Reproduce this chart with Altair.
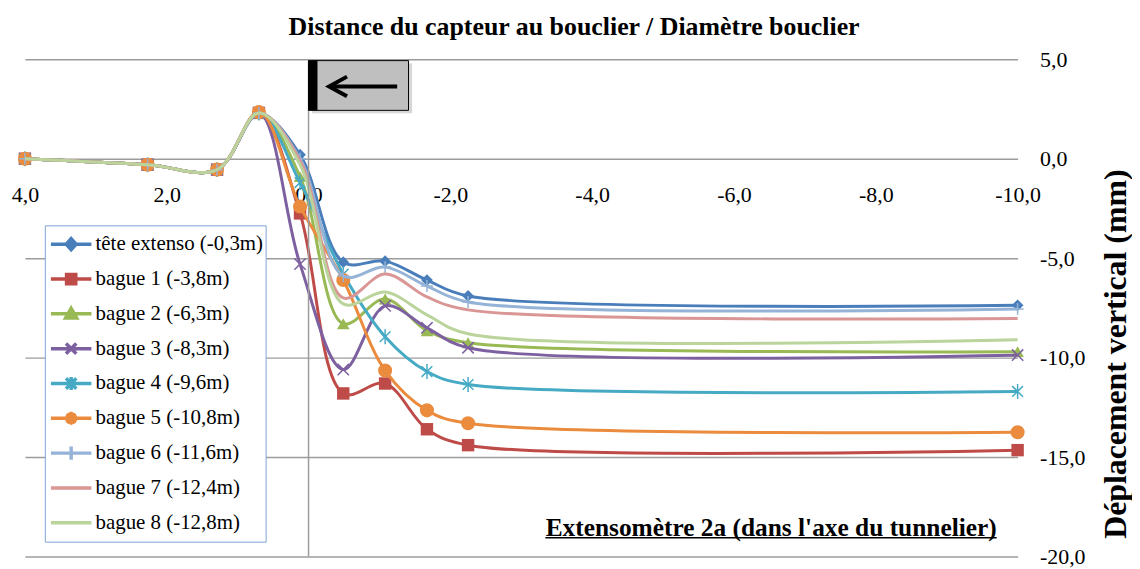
import altair as alt
import pandas as pd

FONT = "Liberation Serif"
GRID = "#9C9C9C"

series = ["tête extenso (-0,3m)", "bague 1 (-3,8m)", "bague 2 (-6,3m)", "bague 3 (-8,3m)",
          "bague 4 (-9,6m)", "bague 5 (-10,8m)", "bague 6 (-11,6m)", "bague 7 (-12,4m)",
          "bague 8 (-12,8m)"]
colors = ["#4A7EBB", "#BE4B48", "#98B954", "#7D60A0", "#46AAC5", "#EB8B3E",
          "#95B3D7", "#D99694", "#BAD49B"]

distance = [4.0, 2.27, 1.29, 0.70, 0.12, -0.49, -1.08, -1.67, -2.25, -10.0]

tete   = [0.0, -0.30, -0.55, 2.25, 0.20, -5.20, -5.15, -6.10, -6.90, -7.37]
bague1 = [0.0, -0.30, -0.55, 2.30, -2.75, -11.80, -11.30, -13.60, -14.40, -14.65]
bague2 = [0.0, -0.30, -0.55, 2.30, -0.90, -8.30, -7.05, -8.65, -9.25, -9.70]
bague3 = [0.0, -0.30, -0.55, 2.30, -5.30, -10.60, -7.40, -8.50, -9.50, -9.87]
bague4 = [0.0, -0.30, -0.55, 2.30, -1.20, -5.80, -8.95, -10.70, -11.35, -11.70]
bague5 = [0.0, -0.30, -0.55, 2.35, -2.40, -6.10, -10.65, -12.65, -13.30, -13.75]
bague6 = [0.0, -0.30, -0.55, 2.30, 0.00, -5.90, -5.45, -6.40, -7.20, -7.55]
bague7 = [0.0, -0.30, -0.55, 2.30, -0.10, -7.00, -5.80, -6.95, -7.60, -8.03]
bague8 = [0.0, -0.30, -0.55, 2.30, -0.30, -7.30, -6.70, -7.85, -8.80, -9.10]
values = [tete, bague1, bague2, bague3, bague4, bague5, bague6, bague7, bague8]

x_ticks = [4, 2, 0, -2, -4, -6, -8, -10]
y_ticks = [5, 0, -5, -10, -15, -20]

title_text = "Distance du capteur au bouclier / Diamètre bouclier"
note_text = "Extensomètre 2a (dans l'axe du tunnelier)"

rows = []
for name, vals in zip(series, values):
    for d, v in zip(distance, vals):
        rows.append({"series": name, "d": d, "v": v})
df = pd.DataFrame(rows)

xs = alt.Scale(domain=[4, -10], nice=False, zero=False)
ys = alt.Scale(domain=[-20, 5], nice=False, zero=False)
# same mapping as the legend scales, listed in reverse so it stays a separate (hidden) legend
cs = alt.Scale(domain=series[::-1], range=colors[::-1])
fmt = "(datum.value < 0 ? '-' : '') + replace(format(abs(datum.value), '.1f'), '.', ',')"

X_AXIS = alt.Axis(orient="bottom", offset=-400, values=x_ticks, labelExpr=fmt, grid=False,
                  domain=False, ticks=False, tickSize=0, labelPadding=26, labelFont=FONT,
                  labelFontSize=22, labelColor="black", title=None, labelFlush=False,
                  labelOverlap=False)
Y_AXIS = alt.Axis(orient="right", values=y_ticks, labelExpr=fmt, grid=True, gridColor=GRID,
                  gridWidth=1.5, domain=False, ticks=False, tickSize=0, labelPadding=22,
                  labelAlign="left", labelFont=FONT, labelFontSize=22, labelColor="black",
                  title="Déplacement vertical (mm)", titleFont=FONT, titleFontSize=32,
                  titleFontWeight="bold", titleColor="black", titleAngle=270, titleX=108,
                  titleY=296, titleAlign="center", titleBaseline="alphabetic")

markers = [
    ("diamond", 140, True, 1),
    ("square", 156, True, 1),
    ("triangle-up", 160, True, 1),
    ("M-1,-1L1,1M-1,1L1,-1", 130, False, 1.5),
    ("M-1,-1L1,1M-1,1L1,-1M0,-1.4L0,1.4", 115, False, 1.5),
    ("circle", 200, True, 1),
    ("M0,-1L0,1M-1,0L1,0", 144, False, 1.5),
    None,
    None,
]

L = "M-1.1,0H1.1"
legend_shapes = [
    L + "M0,-0.3L0.27,0L0,0.3L-0.27,0Z",
    L + "M-0.25,-0.25H0.25V0.25H-0.25Z",
    L + "M0,-0.3L0.3,0.22L-0.3,0.22Z",
    L + "M-0.28,-0.28L0.28,0.28M-0.28,0.28L0.28,-0.28",
    L + "M-0.28,-0.28L0.28,0.28M-0.28,0.28L0.28,-0.28M0,-0.35V0.35",
    L + "M0.26,0L0.18,0.18L0,0.26L-0.18,0.18L-0.26,0L-0.18,-0.18L0,-0.26L0.18,-0.18Z",
    L + "M0,-0.36V0.36",
    L,
    L,
]

base = alt.Chart(df)
xenc = alt.X("d:Q", scale=xs, axis=X_AXIS)
yenc = alt.Y("v:Q", scale=ys, axis=Y_AXIS)
layers = []
for i, name in enumerate(series):
    sub = base.transform_filter(alt.datum.series == name)
    layers.append(sub.mark_line(interpolate="catmull-rom", strokeWidth=3).encode(
        x=xenc, y=yenc, color=alt.Color("series:N", scale=cs, legend=None)))
    m = markers[i]
    if m is not None:
        shape, size, filled, sw = m
        layers.append(sub.mark_point(shape=shape, size=size, filled=filled, opacity=1,
                                     strokeWidth=sw).encode(
            x=xenc, y=yenc, color=alt.Color("series:N", scale=cs, legend=None)))

LEG_PROPS = dict(padding=2, labelFont=FONT, labelFontSize=21, labelColor="black",
                 symbolSize=1369, symbolStrokeWidth=3.5, clipHeight=34, rowPadding=1,
                 labelOffset=4, symbolOffset=4, strokeColor="#7DA3D6", fillColor="white",
                 labelLimit=400)
leg = alt.Legend(orient="none", legendX=20, legendY=167, title=None, **LEG_PROPS)
legend_layer = base.transform_filter("false").mark_point(filled=True, opacity=1, strokeWidth=3.5).encode(
    x=xenc, y=yenc,
    fill=alt.Fill("series:N", scale=alt.Scale(domain=series, range=colors), legend=leg),
    stroke=alt.Stroke("series:N", scale=alt.Scale(domain=series, range=colors), legend=leg),
    shape=alt.Shape("series:N", scale=alt.Scale(domain=series, range=legend_shapes), legend=leg),
)

one = alt.Chart(alt.Data(values=[{"k": 1}]))
xd = lambda v: alt.XDatum(v, type="quantitative", scale=xs, axis=X_AXIS)
yd = lambda v: alt.YDatum(v, type="quantitative", scale=ys, axis=Y_AXIS)

vrule = one.mark_rule(color=GRID, strokeWidth=1.5).encode(x=xd(0))

shadow = one.mark_rect(color="#BDBDBD", opacity=0.6).encode(
    x=xd(-0.05), x2=alt.datum(-1.46), y=yd(4.78), y2=alt.datum(2.28))
box = one.mark_rect(color="#BFBFBF", stroke="black", strokeWidth=1).encode(
    x=xd(0.0), x2=alt.datum(-1.41), y=yd(4.93), y2=alt.datum(2.43))
bar = one.mark_rect(color="black").encode(
    x=xd(0.0), x2=alt.datum(-0.126), y=yd(4.93), y2=alt.datum(2.43))
shaft = one.mark_rule(color="black", strokeWidth=4).encode(
    x=xd(-0.32), x2=alt.datum(-1.25), y=yd(3.63))
head = one.mark_point(shape="M1,-0.55L0,0L1,0.55", size=1296, filled=False, color="black",
                      strokeWidth=4, opacity=1).encode(x=xd(-0.29), y=yd(3.63))

title = one.mark_text(text=title_text, font=FONT, fontSize=26, fontWeight="bold",
                      align="center", baseline="alphabetic", color="black").encode(
    x=xd(-3.745), y=yd(6.22))
note = one.mark_text(text=note_text, font=FONT, fontSize=25.5, fontWeight="bold",
                     align="right", baseline="alphabetic", color="black").encode(
    x=xd(-9.705), y=yd(-18.95))
underline = one.mark_rule(color="black", strokeWidth=1.5).encode(
    x=xd(-3.34), x2=alt.datum(-9.705), y=yd(-19.05))

chart = alt.layer(*layers, legend_layer, vrule, shadow, box, bar, shaft, head, title, note,
                  underline).properties(
    width=998, height=500,
    autosize=alt.AutoSizeParams(type="none"),
    padding={"left": 17, "top": 50, "right": 115, "bottom": 11},
    background="white",
).configure_view(stroke=None).configure_legend(**LEG_PROPS)

chart.save("out.html", embed_options={"renderer": "svg", "actions": False})
